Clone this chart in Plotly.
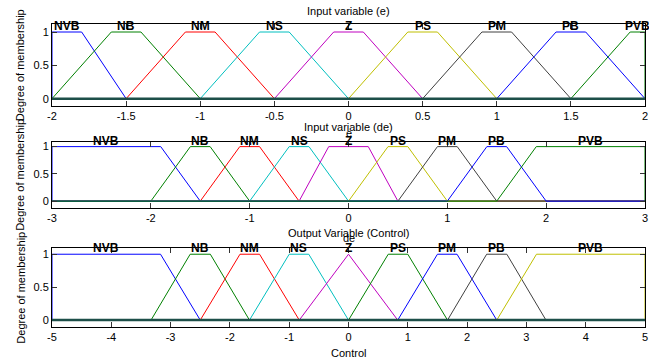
import plotly.graph_objects as go

# Linguistic terms shared by all three variables
TERMS = ["NVB", "NB", "NM", "NS", "Z", "PS", "PM", "PB", "PVB"]

# Input variable (e): trapezoid corners [a, b, c, d]
E_RANGE = [-2, 2]
E_PARAMS = [
    [-2.0, -2.0, -1.8, -1.5],
    [-2.0, -1.6, -1.4, -1.0],
    [-1.5, -1.1, -0.9, -0.5],
    [-1.0, -0.6, -0.4, 0.0],
    [-0.5, -0.1, 0.1, 0.5],
    [0.0, 0.4, 0.6, 1.0],
    [0.5, 0.9, 1.1, 1.5],
    [1.0, 1.4, 1.6, 2.0],
    [1.5, 1.9, 2.0, 2.0],
]
E_TICKS = [-2, -1.5, -1, -0.5, 0, 0.5, 1, 1.5, 2]

# Input variable (de)
DE_RANGE = [-3, 3]
DE_PARAMS = [
    [-3.0, -3.0, -1.9, -1.5],
    [-2.0, -1.6, -1.4, -1.0],
    [-1.5, -1.1, -0.9, -0.5],
    [-1.0, -0.6, -0.4, 0.0],
    [-0.5, -0.2, 0.2, 0.5],
    [0.0, 0.4, 0.6, 1.0],
    [0.5, 0.9, 1.1, 1.5],
    [1.0, 1.4, 1.6, 2.0],
    [1.5, 1.9, 3.0, 3.0],
]
DE_TICKS = [-3, -2, -1, 0, 1, 2, 3]

# Output variable (Control)
U_RANGE = [-5, 5]
U_PARAMS = [
    [-5.0, -5.0, -3.17, -2.5],
    [-3.33, -2.67, -2.33, -1.67],
    [-2.5, -1.83, -1.5, -0.83],
    [-1.67, -1.0, -0.67, 0.0],
    [-0.83, 0.0, 0.0, 0.83],
    [0.0, 0.67, 1.0, 1.67],
    [0.83, 1.5, 1.83, 2.5],
    [1.67, 2.33, 2.67, 3.33],
    [2.5, 3.17, 5.0, 5.0],
]
U_TICKS = [-5, -4, -3, -2, -1, 0, 1, 2, 3, 4, 5]

Y_TICKS = [0, 0.5, 1]

BLUE, GREEN, RED, CYAN = "#0000ff", "#008000", "#ff0000", "#00bfbf"
MAGENTA, YELLOW, GRAY = "#bf00bf", "#bfbf00", "#404040"
E_COLORS = [BLUE, GREEN, RED, CYAN, MAGENTA, YELLOW, GRAY, BLUE, GREEN]
DE_COLORS = E_COLORS
U_COLORS = [BLUE, GREEN, RED, CYAN, MAGENTA, GREEN, BLUE, GRAY, YELLOW]

FONT = "Liberation Sans, Arial, sans-serif"

W, H = 649, 364
ML, MR, MT, MB = 52, 1, 24, 37
PH = H - MT - MB


def py(px):
    """pixel row -> paper fraction"""
    return (H - MB - px) / PH


panels = [
    dict(params=E_PARAMS, colors=E_COLORS, rng=E_RANGE, ticks=E_TICKS,
         title="Input variable (e)", xlabel="e", top=24, bottom=106,
         yr=[-0.11, 1.12], title_px=11, xlabel_px=133, base=True),
    dict(params=DE_PARAMS, colors=DE_COLORS, rng=DE_RANGE, ticks=DE_TICKS,
         title="Input variable (de)", xlabel="de", top=141.7, bottom=207.7,
         yr=[-0.12, 1.09], title_px=126.5, xlabel_px=237.5, base=False),
    dict(params=U_PARAMS, colors=U_COLORS, rng=U_RANGE, ticks=U_TICKS,
         title="Output Variable (Control)", xlabel="Control", top=248.3, bottom=326.7,
         yr=[-0.10, 1.09], title_px=233, xlabel_px=353, base=True),
]

fig = go.Figure()
annotations = []
shapes = []

for i, p in enumerate(panels, start=1):
    xa = "x" if i == 1 else f"x{i}"
    ya = "y" if i == 1 else f"y{i}"
    lo, hi = p["rng"]
    for name, (a, b, c, d), col in zip(TERMS, p["params"], p["colors"]):
        xs = [lo, a, b, c, d, hi]
        ys = [0, 0, 1, 1, 0, 0]
        fig.add_trace(go.Scatter(x=xs, y=ys, mode="lines", xaxis=xa, yaxis=ya,
                                 line=dict(color=col, width=1), showlegend=False,
                                 hoverinfo="skip"))
        annotations.append(dict(x=(b + c) / 2, y=1, xref=xa, yref=ya, text=f"<b>{name}</b>",
                                showarrow=False, yanchor="bottom", yshift=-3,
                                font=dict(family=FONT, size=12, color="black")))
    if p["base"]:
        shapes.append(dict(type="line", xref=f"{xa} domain", yref=ya, x0=0, x1=1, y0=0, y1=0,
                           line=dict(color="#1d4f49", width=2.5), layer="above"))

    dom = [py(p["bottom"]), py(p["top"])]
    axis_common = dict(showline=True, linecolor="black", linewidth=1, mirror="ticks",
                       ticks="inside", ticklen=5, tickcolor="#333", tickwidth=1,
                       showgrid=False, zeroline=False, ticklabeloverflow="allow",
                       tickfont=dict(family=FONT, size=11, color="black"))
    fig.update_layout(**{
        ("xaxis" if i == 1 else f"xaxis{i}"): dict(
            range=p["rng"], tickvals=p["ticks"], ticktext=[f"{t:g}" for t in p["ticks"]],
            anchor=ya, domain=[0, 1], **axis_common),
        ("yaxis" if i == 1 else f"yaxis{i}"): dict(
            range=p["yr"], tickvals=Y_TICKS, ticktext=["0", "0.5", "1"],
            anchor=xa, domain=dom, **axis_common),
    })
    mid = (p["top"] + p["bottom"]) / 2
    annotations.append(dict(x=0.5, y=py(p["title_px"]), xref="paper", yref="paper",
                            text=p["title"], showarrow=False, yanchor="middle",
                            font=dict(family=FONT, size=11, color="black")))
    annotations.append(dict(x=0.5, y=py(p["xlabel_px"]), xref="paper", yref="paper",
                            text=p["xlabel"], showarrow=False, yanchor="middle",
                            font=dict(family=FONT, size=11, color="black")))
    annotations.append(dict(x=(20 - ML) / (W - ML - MR), y=py(mid), xref="paper", yref="paper",
                            text="Degree of membership", textangle=-90, showarrow=False,
                            xanchor="center", yanchor="middle",
                            font=dict(family=FONT, size=11, color="black")))

fig.update_layout(width=W, height=H, margin=dict(l=ML, r=MR, t=MT, b=MB),
                  paper_bgcolor="white", plot_bgcolor="white",
                  annotations=annotations, shapes=shapes, showlegend=False)

fig.write_html("out.html")
